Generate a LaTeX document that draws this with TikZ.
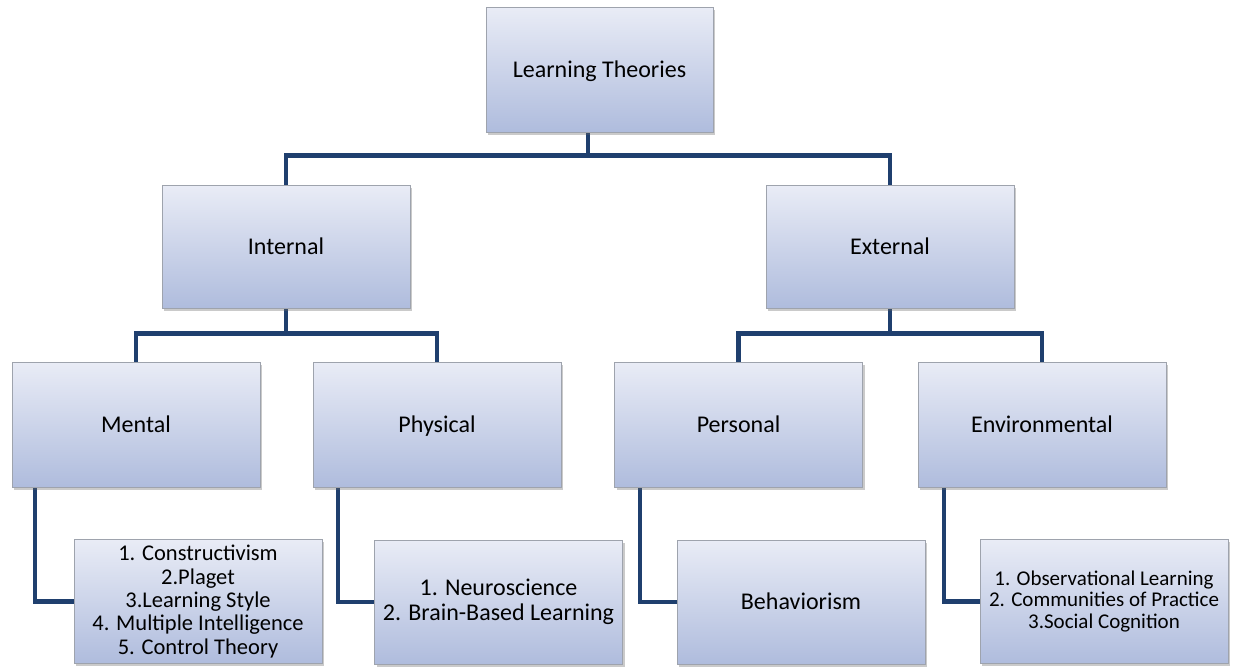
\documentclass[tikz,border=0pt]{standalone}
\usepackage{fontspec}
\setmainfont{Carlito}
\usetikzlibrary{shadows,backgrounds}
\definecolor{topc}{HTML}{E9ECF6}
\definecolor{botc}{HTML}{AFBCDD}
\definecolor{edgec}{HTML}{9EA3AD}
\definecolor{conn}{HTML}{1F3F6E}
\tikzset{
  box/.style={draw=edgec, line width=1pt, top color=topc, bottom color=botc,
    minimum width=248pt, minimum height=124pt, inner sep=0pt, align=center,
    font=\fontsize{24}{23.3}\selectfont,
    drop shadow={shadow xshift=2pt, shadow yshift=-2.5pt, opacity=0.35, fill=black!60}},
  single/.style={text height=18pt, text depth=3pt},
  link/.style={draw=conn, line width=4.5pt}
}
\begin{document}
\begin{tikzpicture}[x=1pt,y=-1pt]
\useasboundingbox (0,0) rectangle (1233,670);
\node[box, single, minimum width=227pt, minimum height=125pt] (lt) at (599.5,69.5) {Learning Theories};
\node[box, single, minimum height=123pt] (int) at (286,246.5) {Internal};
\node[box, single, minimum height=123pt] (ext) at (890,246.5) {External};
\node[box, single, minimum height=125pt] (men) at (136,424.5) {Mental};
\node[box, single, minimum height=125pt] (phy) at (437,424.5) {Physical};
\node[box, single, minimum height=125pt] (per) at (738.5,424.5) {Personal};
\node[box, single, minimum height=125pt] (env) at (1042,424.5) {Environmental};
\node[box, font=\fontsize{22.5}{23.4}\selectfont] (l1) at (198,601.5) {1. Constructivism\\2.Plaget\\3.Learning Style\\4. Multiple Intelligence\\5. Control Theory};
\node[box, font=\fontsize{24}{25}\selectfont] (l2) at (498.5,602) {1. Neuroscience\\2. Brain-Based Learning};
\node[box, single] (l3) at (801,602) {Behaviorism};
\node[box, font=\fontsize{21}{21.7}\selectfont] (l4) at (1104,601.5) {1. Observational Learning\\2. Communities of Practice\\3.Social Cognition};
\begin{scope}[on background layer]
\draw[link] ([xshift=-11.5pt]lt.south) -- ++(0,23) -| (int.north);
\draw[link] ([xshift=-11.5pt]lt.south) -- ++(0,23) -| (ext.north);
\draw[link] (int.south) -- ++(0,25) -| (men.north);
\draw[link] (int.south) -- ++(0,25) -| (phy.north);
\draw[link] (ext.south) -- ++(0,25) -| (per.north);
\draw[link] (ext.south) -- ++(0,25) -| (env.north);
\draw[link] ([xshift=-101pt]men.south) |- (l1.west);
\draw[link] ([xshift=-99pt]phy.south) |- (l2.west);
\draw[link] ([xshift=-98.5pt]per.south) |- (l3.west);
\draw[link] ([xshift=-98pt]env.south) |- (l4.west);
\end{scope}
\end{tikzpicture}
\end{document}
